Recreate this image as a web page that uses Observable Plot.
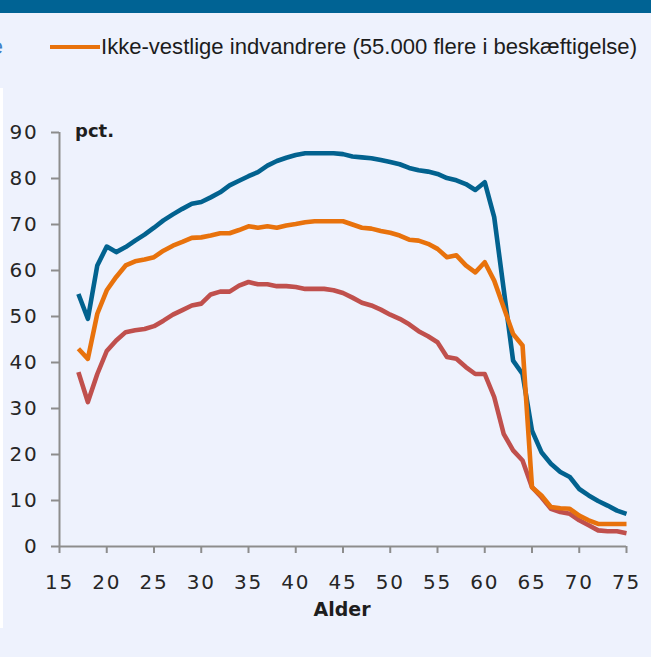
<!DOCTYPE html>
<html>
<head>
<meta charset="utf-8">
<script src="https://cdn.jsdelivr.net/npm/d3@7"></script>
<script src="https://cdn.jsdelivr.net/npm/@observablehq/plot@0.6"></script>
<style>
  html, body { margin: 0; padding: 0; background: #eef2fd; }
  #wrap { position: relative; width: 651px; height: 657px; background: #eef2fd; overflow: hidden; }
  #topbar { position: absolute; left: 0; top: 0; width: 651px; height: 13px; background: #006394; }
  #strip { position: absolute; left: 0; top: 88px; width: 2.5px; height: 540px; background: #ffffff; }
  #chart { position: absolute; left: 0; top: 0; }
  #overlay { position: absolute; left: 0; top: 0; pointer-events: none; }
  #chart g[aria-label="y-axis tick label"] text,
  #chart g[aria-label="x-axis tick label"] text { letter-spacing: 1.8px; }
</style>
</head>
<body>
<div id="wrap">
  <div id="topbar"></div>
  <div id="strip"></div>
  <div id="chart"></div>
  <svg id="overlay" width="651" height="657" xmlns="http://www.w3.org/2000/svg">
    <text x="3" y="54" text-anchor="end" font-family="Liberation Sans" font-size="22" fill="#3f7fc6">e</text>
    <line id="legline" x1="50" x2="100" y1="47" y2="47" stroke-width="4"></line>
    <text id="legtext" x="101" y="54" font-family="Liberation Sans" font-size="22" fill="#1c1c1c" textLength="536" lengthAdjust="spacingAndGlyphs"></text>
    <text id="ylab" x="75" y="137" font-family="DejaVu Sans" font-weight="bold" font-size="18" fill="#1e1e1e"></text>
    <text id="xlab" x="342" y="616" text-anchor="middle" font-family="DejaVu Sans" font-weight="bold" font-size="19" fill="#1e1e1e"></text>
  </svg>
</div>
<script>
// ---- data ----
const ages = d3.range(17, 76);
const seriesNames = ["Hele befolkningen", "Ikke-vestlige indvandrere (55.000 flere i beskæftigelse)", "Ikke-vestlige indvandrere"];
const seriesColors = ["#02628f", "#e8720c", "#c0504d"];
const blueValues = [54.9, 49.5, 61.1, 65.2, 64.0, 65.1, 66.5, 67.8, 69.3, 70.9, 72.2, 73.4, 74.5, 74.9, 75.9, 77.0, 78.5, 79.5, 80.5, 81.4, 82.8, 83.8, 84.5, 85.1, 85.5, 85.5, 85.5, 85.5, 85.3, 84.8, 84.6, 84.4, 84.0, 83.6, 83.1, 82.3, 81.8, 81.5, 81.0, 80.1, 79.6, 78.8, 77.5, 79.2, 71.6, 56.0, 40.4, 37.5, 25.2, 20.5, 18.0, 16.2, 15.1, 12.5, 11.1, 9.9, 8.9, 7.8, 7.1];
const orangeValues = [43.0, 40.8, 50.6, 55.7, 58.6, 61.1, 62.0, 62.4, 62.9, 64.3, 65.4, 66.2, 67.1, 67.2, 67.6, 68.1, 68.1, 68.8, 69.6, 69.3, 69.6, 69.3, 69.8, 70.1, 70.5, 70.7, 70.7, 70.7, 70.7, 70.0, 69.3, 69.1, 68.6, 68.2, 67.6, 66.7, 66.5, 65.8, 64.7, 62.9, 63.3, 61.1, 59.6, 61.8, 57.8, 52.0, 46.2, 43.7, 12.9, 11.1, 8.6, 8.3, 8.2, 6.7, 5.7, 4.9, 4.9, 4.9, 4.9];
const redValues = [37.9, 31.4, 37.5, 42.5, 44.8, 46.6, 47.0, 47.3, 47.9, 49.1, 50.4, 51.4, 52.4, 52.8, 54.8, 55.4, 55.4, 56.7, 57.5, 57.0, 57.0, 56.6, 56.6, 56.4, 56.0, 56.0, 56.0, 55.7, 55.1, 54.1, 53.0, 52.4, 51.5, 50.4, 49.5, 48.3, 46.8, 45.7, 44.4, 41.2, 40.8, 39.0, 37.5, 37.5, 32.5, 24.5, 20.9, 18.7, 12.9, 10.7, 8.2, 7.5, 7.1, 5.7, 4.6, 3.5, 3.3, 3.3, 2.9];
const yTicks = [0, 10, 20, 30, 40, 50, 60, 70, 80, 90];
const xTicks = [15, 20, 25, 30, 35, 40, 45, 50, 55, 60, 65, 70, 75];
const yLabel = "pct.";
const xLabel = "Alder";

// ---- tables ----
const toRows = (vals) => ages.map((a, i) => ({age: a, value: vals[i]}));
const blue = toRows(blueValues);
const orange = toRows(orangeValues);
const red = toRows(redValues);

const lineOpts = (color) => ({x: "age", y: "value", stroke: color, strokeWidth: 4.6, strokeLinejoin: "round", strokeLinecap: "butt"});

const chart = Plot.plot({
  width: 651,
  height: 657,
  marginTop: 132,
  marginBottom: 111,
  marginLeft: 59,
  marginRight: 25,
  style: {background: "transparent", color: "#262626", fontFamily: "DejaVu Sans", overflow: "visible"},
  x: {domain: [15, 75]},
  y: {domain: [0, 90]},
  marks: [
    Plot.axisY({ticks: yTicks, tickSize: 8, tickPadding: 13, stroke: "#8d8d8d", strokeWidth: 2, fontSize: 20, label: null, tickFormat: d => String(d)}),
    Plot.axisX({ticks: xTicks, tickSize: 7, tickPadding: 21, stroke: "#8d8d8d", strokeWidth: 2, fontSize: 20, label: null, tickFormat: d => String(d)}),
    Plot.ruleX([15], {stroke: "#8d8d8d", strokeWidth: 2}),
    Plot.ruleY([0], {stroke: "#8d8d8d", strokeWidth: 2}),
    Plot.lineY(blue, lineOpts(seriesColors[0])),
    Plot.lineY(red, lineOpts(seriesColors[2])),
    Plot.lineY(orange, lineOpts(seriesColors[1]))
  ]
});
document.getElementById("chart").appendChild(chart);

document.getElementById("legline").setAttribute("stroke", seriesColors[1]);
document.getElementById("legtext").textContent = seriesNames[1];
document.getElementById("ylab").textContent = yLabel;
document.getElementById("xlab").textContent = xLabel;
</script>
</body>
</html>
